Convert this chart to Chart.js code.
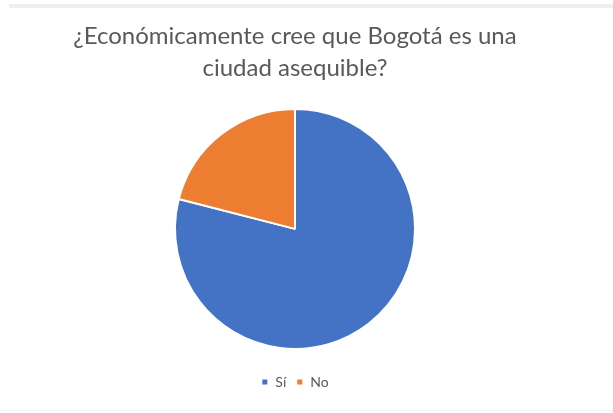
<!DOCTYPE html>
<html>
<head>
<meta charset="utf-8">
<script src="https://cdn.jsdelivr.net/npm/chart.js@4"></script>
<style>
  html, body { margin: 0; padding: 0; background: #ffffff; }
  #wrap { position: relative; width: 613px; height: 413px; }
  #topband { position: absolute; left: 9px; right: 0; top: 4px; height: 4px; background: #efefef; }
  #bottomline { position: absolute; left: 0; right: 0; bottom: 2px; height: 1px; background: #f4f4f4; }
  canvas { position: absolute; left: 0; top: 0; }
</style>
</head>
<body>
<div id="wrap">
  <div id="topband"></div>
  <div id="bottomline"></div>
  <canvas id="c" width="613" height="413"></canvas>
</div>
<script>
const categories = ['Sí', 'No'];
const respuestas = [79, 21];
const colores = ['#4472C4', '#ED7D31'];
const titulo = ['¿Económicamente cree que Bogotá es una', 'ciudad asequible?'];

new Chart(document.getElementById('c'), {
  type: 'pie',
  data: {
    labels: categories,
    datasets: [{
      data: respuestas,
      backgroundColor: colores,
      borderColor: '#ffffff',
      borderWidth: 2,
      radius: 120
    }]
  },
  options: {
    responsive: false,
    animation: false,
    layout: { padding: { top: 16, bottom: 14, left: 0, right: 23 } },
    plugins: {
      title: {
        display: true,
        text: titulo,
        color: '#595959',
        font: { family: 'Lato', size: 24, weight: 'normal', lineHeight: 1.35 },
        padding: { top: 4, bottom: 8 }
      },
      legend: {
        position: 'bottom',
        labels: {
          color: '#595959',
          font: { family: 'Lato', size: 14 },
          boxWidth: 7,
          boxHeight: 7,
          padding: 10
        }
      },
      tooltip: { enabled: false }
    }
  }
});
</script>
</body>
</html>
